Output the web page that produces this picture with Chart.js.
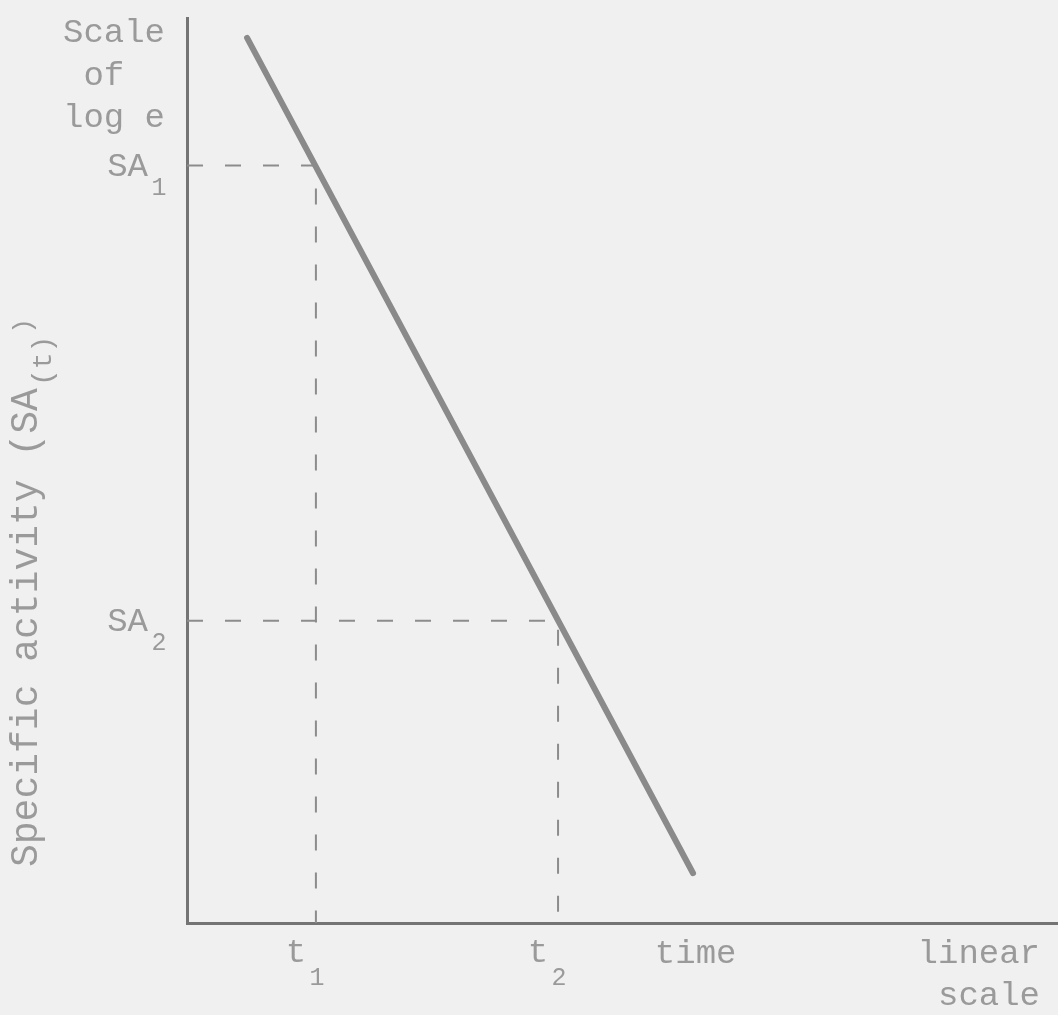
<!DOCTYPE html>
<html>
<head>
<meta charset="utf-8">
<script src="https://cdn.jsdelivr.net/npm/chart.js@4.4.1/dist/chart.umd.min.js"></script>
<style>
  html, body { margin: 0; padding: 0; background: #f0f0f0; }
  #wrap { width: 1058px; height: 1015px; position: relative; }
</style>
</head>
<body>
<div id="wrap"><canvas id="c"></canvas></div>
<script>
// --- data (arbitrary units: time on x, log scale position on y) ---
const lineTime = [0.69, 5.81];
const lineActivity = [9.78, 0.55];
const markTimes = [1.48, 4.26];        // t1, t2
const markActivities = [8.37, 3.34];   // SA1, SA2
const markSubs = ['1', '2'];
const timeLabelAt = 5.84;              // where "time" sits on the x axis

const INK = '#9a9a9a';
const AXIS = '#747474';
const MONO = "'Liberation Mono', 'DejaVu Sans Mono', monospace";

const datasets = [{
  data: lineTime.map((t, i) => ({ x: t, y: lineActivity[i] })),
  borderColor: '#8a8a8a', borderWidth: 6, pointRadius: 0, showLine: true, borderCapStyle: 'round'
}];
markTimes.forEach((t, i) => {
  datasets.push({
    data: [{ x: 0, y: markActivities[i] }, { x: t, y: markActivities[i] }, { x: t, y: 0 }],
    borderColor: '#8c8c8c', borderWidth: 2, borderDash: [16, 22], pointRadius: 0, showLine: true
  });
});

// texts with subscripts, drawn against the scales
const textPlugin = {
  id: 'texts',
  afterDraw(chart) {
    const ctx = chart.ctx, xs = chart.scales.x, ys = chart.scales.y, a = chart.chartArea;
    ctx.save();
    ctx.fillStyle = INK;
    ctx.textBaseline = 'alphabetic';
    const big = '34px ' + MONO, small = '25px ' + MONO;

    // top-left note
    ctx.font = big; ctx.textAlign = 'left';
    ['Scale', ' of', 'log e'].forEach((s, i) => ctx.fillText(s, a.left - 124, 42 + i * 42.5));

    // SA labels on the y axis
    markActivities.forEach((v, i) => {
      const y = ys.getPixelForValue(v);
      ctx.font = big; ctx.textAlign = 'right';
      ctx.fillText('SA', a.left - 39, y + 10);
      ctx.font = small; ctx.textAlign = 'center';
      ctx.fillText(markSubs[i], a.left - 28, y + 29);
    });

    // t labels on the x axis
    markTimes.forEach((t, i) => {
      const x = xs.getPixelForValue(t);
      ctx.font = big; ctx.textAlign = 'center';
      ctx.fillText('t', x - 20, a.bottom + 39);
      ctx.font = small;
      ctx.fillText(markSubs[i], x + 1, a.bottom + 62);
    });

    ctx.font = big; ctx.textAlign = 'center';
    ctx.fillText('time', xs.getPixelForValue(timeLabelAt), a.bottom + 40);
    ctx.textAlign = 'right';
    ctx.fillText('linear', a.right - 18, a.bottom + 40);
    ctx.fillText('scale', a.right - 18, a.bottom + 82);

    // rotated y title: Specific activity (SA(t))
    ctx.translate(37, 867);
    ctx.rotate(-Math.PI / 2);
    ctx.textAlign = 'left';
    ctx.font = '38px ' + MONO;
    const main = 'Specific activity (SA';
    ctx.fillText(main, 0, 0);
    let w = ctx.measureText(main).width;
    ctx.font = '28px ' + MONO;
    ctx.fillText('(t)', w + 2, 14);
    w += ctx.measureText('(t)').width + 4;
    ctx.font = '26px ' + MONO;
    ctx.fillText(')', w, -6);
    ctx.restore();
  }
};

new Chart(document.getElementById('c'), {
  type: 'scatter',
  data: { datasets },
  options: {
    responsive: true,
    maintainAspectRatio: false,
    animation: false,
    layout: { padding: { top: 18, right: 0, bottom: 0, left: 0 } },
    plugins: { legend: { display: false }, tooltip: { enabled: false } },
    scales: {
      x: {
        type: 'linear', min: 0, max: 10,
        grid: { display: false, drawTicks: false },
        ticks: { display: false },
        border: { color: AXIS, width: 3 },
        afterFit: s => { s.height = 92; }
      },
      y: {
        type: 'linear', min: 0, max: 10,
        grid: { display: false, drawTicks: false },
        ticks: { display: false },
        border: { color: AXIS, width: 3 },
        afterFit: s => { s.width = 187; }
      }
    }
  },
  plugins: [textPlugin]
});
</script>
</body>
</html>
